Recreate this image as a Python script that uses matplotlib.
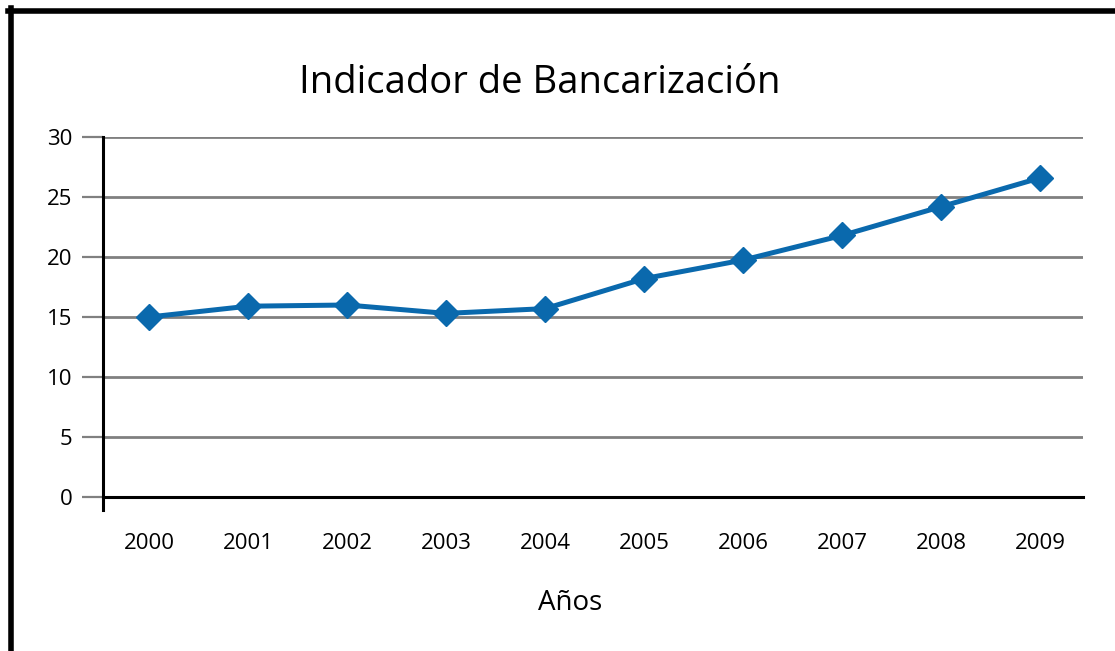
import matplotlib.pyplot as plt
from matplotlib.lines import Line2D

years = ['2000', '2001', '2002', '2003', '2004', '2005', '2006', '2007', '2008', '2009']
indicador = [15.0, 15.9, 16.0, 15.3, 15.7, 18.2, 19.75, 21.8, 24.2, 26.6]
y_ticks = [0, 5, 10, 15, 20, 25, 30]

plt.rcParams['font.family'] = ['Open Sans', 'DejaVu Sans']

fig = plt.figure(figsize=(11.15, 6.51), dpi=100)
ax = fig.add_axes([103 / 1115, 1 - 497 / 651, 980 / 1115, 360 / 651])

x = list(range(len(years)))
ax.plot(x, indicador, color='#0a69ad', linewidth=3.6, marker='D', markersize=13,
        clip_on=False, zorder=3)

ax.set_xlim(-0.465, 9.43)
ax.set_ylim(0, 30)
ax.set_yticks(y_ticks)
ax.set_xticks(x)
ax.set_xticklabels(years)

# grid lines
for v in y_ticks[1:]:
    ax.axhline(v, color='#808080', linewidth=2, zorder=1)

for s in ['top', 'right', 'left']:
    ax.spines[s].set_visible(False)
ax.spines['bottom'].set_color('black')
ax.spines['bottom'].set_linewidth(2.2)
ax.spines['bottom'].set_zorder(2)

# vertical axis running a bit below zero
ax.plot([0, 0], [-0.036, 1], transform=ax.transAxes, color='black', linewidth=2.2,
        clip_on=False, zorder=2)

ax.tick_params(axis='y', length=15, width=1.6, color='#808080', pad=7, labelsize=16)
ax.tick_params(axis='x', length=0, pad=26, labelsize=16)

fig.text(0.484, 0.872, 'Indicador de Bancarización', fontsize=27.5, ha='center', va='center')
fig.text(0.511, 0.074, 'Años', fontsize=20, ha='center', va='center')

# frame lines at top and left
fig.add_artist(Line2D([8 / 1115, 1], [1 - 10.5 / 651, 1 - 10.5 / 651], color='black', linewidth=4))
fig.add_artist(Line2D([10.5 / 1115, 10.5 / 1115], [0, 1 - 8 / 651], color='black', linewidth=4))

fig.savefig('out.png', dpi=100)
